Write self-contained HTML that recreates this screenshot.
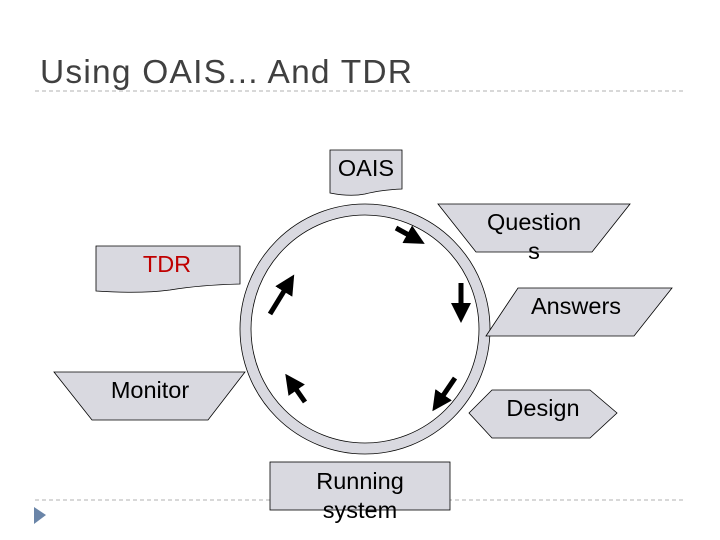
<!DOCTYPE html>
<html><head><style>
body{margin:0;background:#fff;}
svg{display:block;}
text{font-family:"Liberation Sans",sans-serif;}
</style></head><body>
<svg width="720" height="540" viewBox="0 0 720 540">
<defs><marker id="ah" markerWidth="4" markerHeight="4" refX="2" refY="2" orient="auto" markerUnits="strokeWidth"><path d="M0,0 L4,2 L0,4 Z" fill="#000"/></marker></defs>
<text x="40" y="83" font-size="33.5" fill="#404040" textLength="372" lengthAdjust="spacing">Using OAIS... And TDR</text>
<line x1="35" y1="91" x2="686" y2="91" stroke="#b0b0b0" stroke-dasharray="4,3"/>
<line x1="35" y1="500" x2="686" y2="500" stroke="#b0b0b0" stroke-dasharray="4,3"/>
<path d="M34,507 L46,515 L34,524 Z" fill="#6a85a8"/>
<circle cx="365" cy="329" r="119.5" fill="none" stroke="#d9d9e0" stroke-width="10"/>
<circle cx="365" cy="329" r="125" fill="none" stroke="#000" stroke-width="0.8"/>
<circle cx="365" cy="329" r="114" fill="#fff" stroke="#000" stroke-width="0.8"/>
<g fill="#d9d9e0" stroke="#000" stroke-width="0.8">
<path d="M330,150 L402,150 L402,189 Q380,190 365,194 Q350,197 330,193 Z"/>
<path d="M96,246 L240,246 L240,284 Q200,285 170,290 Q140,294 96,291 Z"/>
<path d="M438,204 L630,204 L592,252 L476,252 Z"/>
<path d="M518,288 L672,288 L634,336 L486,336 Z"/>
<path d="M469,413 L492,390 L590,390 L617,413 L590,438 L492,438 Z"/>
<path d="M54,372 L245,372 L208,420 L92,420 Z"/>
<rect x="270" y="462" width="180" height="48"/>
</g>
<g stroke="#000" stroke-width="5" marker-end="url(#ah)">
<line x1="396" y1="228" x2="416" y2="239"/>
<line x1="461" y1="283" x2="461" y2="313"/>
<line x1="455" y1="378" x2="438" y2="403"/>
<line x1="305" y1="402" x2="291" y2="382"/>
<line x1="270" y1="314" x2="289" y2="283"/>
</g>
<g font-size="23.5" fill="#000" text-anchor="middle">
<text x="534" y="230">Question</text>
<text x="534" y="259">s</text>
<text x="576" y="314">Answers</text>
<text x="543" y="416">Design</text>
<text x="150" y="398">Monitor</text>
<text x="360" y="489">Running</text>
<text x="360" y="518">system</text>
<text x="366" y="176">OAIS</text>
<text x="167" y="272" fill="#c00000">TDR</text>
</g>
</svg>
</body></html>
